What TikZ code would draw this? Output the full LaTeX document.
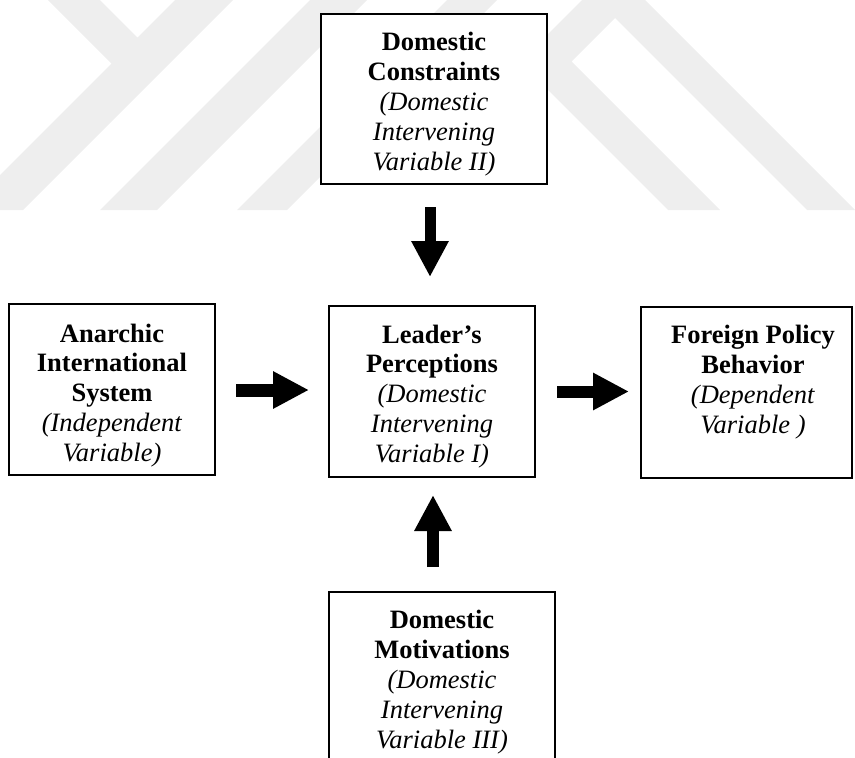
\documentclass[tikz,border=0pt]{standalone}
\usepackage{fontspec}
\setmainfont{Liberation Serif}
\usetikzlibrary{arrows.meta,calc}
\definecolor{wm}{RGB}{238,238,238}
\begin{document}
\begin{tikzpicture}[x=1pt,y=-1pt,
  frame/.style={draw=black, line width=1.5pt, fill=white, inner sep=0pt, outer sep=0pt},
  lbl/.style={align=center, inner sep=0pt, anchor=north, font=\fontsize{26.5pt}{29.8pt}\selectfont},
  blockarrow/.style={line width=#1, -{Triangle[length=36pt,width=35pt]}},
  blockarrow/.default=12pt]
\useasboundingbox (0,0) rectangle (855,758);
\clip (0,0) rectangle (855,758);
% faint watermark
\fill[wm] (-35,210) -- (111.5,63.5) -- (48,0) -- (100,0) -- (137.5,37.5) -- (175,0) -- (233,0) -- (23,210) -- cycle;
\fill[wm] (310,0) -- (367,0) -- (157,210) -- (100,210) -- cycle;
\fill[wm] (447,0) -- (497,0) -- (287,210) -- (237,210) -- cycle;
\fill[wm] (668,210) -- (520,62) -- (582,0) -- (645,0) -- (855,210) -- (807,210) -- (615,18) -- (571.5,61.5) -- (720,210) -- cycle;
% boxes
\node[frame, minimum width=226pt, minimum height=170pt] (T) at (434,99) {};
\node[frame, minimum width=206pt, minimum height=171pt] (L) at (112,389.5) {};
\node[frame, minimum width=206pt, minimum height=171pt] (M) at (432,391.5) {};
\node[frame, minimum width=211pt, minimum height=171pt] (R) at (746.5,392.5) {};
\node[frame, minimum width=226pt, minimum height=169pt] (B) at (442,676.5) {};
% texts
\node[lbl] (Tt) at ($(T.north)+(0,18.4)$) {\textbf{Domestic}\\\textbf{Constraints}\\\textit{(Domestic}\\\textit{Intervening}\\\textit{Variable II)}};
\node[lbl] (Lt) at ($(L.north)+(0,19.5)$) {\textbf{Anarchic}\\\textbf{International}\\\textbf{System}\\\textit{(Independent}\\\textit{Variable)}};
\node[lbl] (Mt) at ($(M.north)+(0,18.5)$) {\textbf{Leader’s}\\\textbf{Perceptions}\\\textit{(Domestic}\\\textit{Intervening}\\\textit{Variable I)}};
\node[lbl] (Rt) at ($(R.north)+(6.5,18.2)$) {\textbf{Foreign Policy}\\\textbf{Behavior}\\\textit{(Dependent}\\\textit{Variable )}};
\node[lbl] (Bt) at ($(B.north)+(0,18.4)$) {\textbf{Domestic}\\\textbf{Motivations}\\\textit{(Domestic}\\\textit{Intervening}\\\textit{Variable III)}};
% arrows
\draw[blockarrow=11pt] ($(T.south)+(-4,23)$) -- ($(M.north)+(-2,-29)$);
\draw[blockarrow=13pt] ($(L.east)+(21,0.5)$) -- ($(M.west)+(-20,-1.5)$);
\draw[blockarrow=12pt] ($(M.east)+(22,0)$) -- ($(R.west)+(-12,-1)$);
\draw[blockarrow=12pt] ($(B.north)+(-9,-25)$) -- ($(M.south)+(1,18)$);
\end{tikzpicture}
\end{document}
